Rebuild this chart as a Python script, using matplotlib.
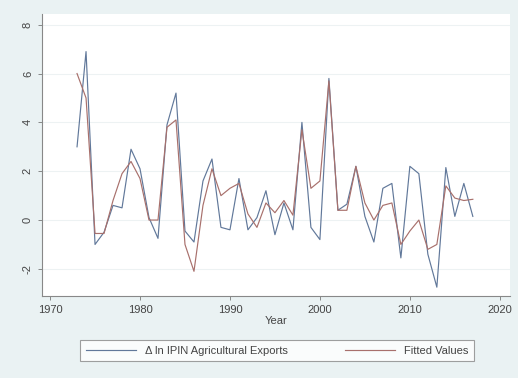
import numpy as np
import matplotlib
matplotlib.use("Agg")
import matplotlib.pyplot as plt

plt.rcParams["font.family"] = ["Liberation Sans", "DejaVu Sans"]

# Data
years = list(range(1973, 2018))
actual = [3.0, 6.9, -1.0, -0.5, 0.6, 0.5, 2.9, 2.1, 0.1, -0.75,
          3.9, 5.2, -0.45, -0.9, 1.6, 2.5, -0.3, -0.4, 1.7, -0.4,
          0.1, 1.2, -0.6, 0.7, -0.4, 4.0, -0.3, -0.8, 5.8, 0.4,
          0.65, 2.2, 0.15, -0.9, 1.3, 1.5, -1.55, 2.2, 1.9, -1.4,
          -2.75, 2.15, 0.15, 1.5, 0.15]
fitted = [6.0, 5.0, -0.55, -0.55, 0.8, 1.9, 2.4, 1.7, 0.0, 0.0,
          3.8, 4.1, -1.0, -2.1, 0.6, 2.1, 1.0, 1.3, 1.5, 0.25,
          -0.3, 0.7, 0.3, 0.8, 0.2, 3.7, 1.3, 1.6, 5.7, 0.4,
          0.4, 2.2, 0.7, 0.0, 0.6, 0.7, -1.0, -0.45, 0.0, -1.2,
          -1.0, 1.4, 0.9, 0.8, 0.85]
yticks = [-2, 0, 2, 4, 6, 8]
xticks = [1970, 1980, 1990, 2000, 2010, 2020]

bg = "#eaf2f3"
fig = plt.figure(figsize=(5.18, 3.78), dpi=100, facecolor=bg)
ax = fig.add_axes([0.081, 0.217, 0.903, 0.746], facecolor="white")

l1, = ax.plot(years, actual, color="#61789a", lw=0.85)
l2, = ax.plot(years, fitted, color="#a8706c", lw=0.85)

ax.set_xlim(1969.1, 2021.1)
ax.set_ylim(-3.11, 8.44)
ax.set_xticks(xticks)
ax.set_yticks(yticks)
ax.set_yticklabels([str(v) for v in yticks], rotation=90, va="center")
ax.tick_params(labelsize=8, colors="#777777", length=3, width=0.6)
ax.tick_params(axis="both", labelcolor="#444444")
for y in yticks:
    ax.axhline(y, color="#edf2f3", lw=0.8, zorder=0)
for s in ["top", "right"]:
    ax.spines[s].set_visible(False)
for s in ["left", "bottom"]:
    ax.spines[s].set_color("#888888")
    ax.spines[s].set_linewidth(0.8)
ax.set_xlabel("Year", fontsize=8, color="#444444", labelpad=1)

leg = fig.legend([l1, l2], ["\u0394 ln IPIN Agricultural Exports", "Fitted Values"],
                 loc="center", bbox_to_anchor=(0.535, 0.072), ncol=2,
                 fontsize=8, frameon=True, fancybox=False, edgecolor="#888888",
                 handlelength=4.5, columnspacing=5.2, borderpad=0.5)
leg.get_frame().set_linewidth(0.8)
for t in leg.get_texts():
    t.set_color("#444444")

fig.savefig("out.png", dpi=100, facecolor=bg)
